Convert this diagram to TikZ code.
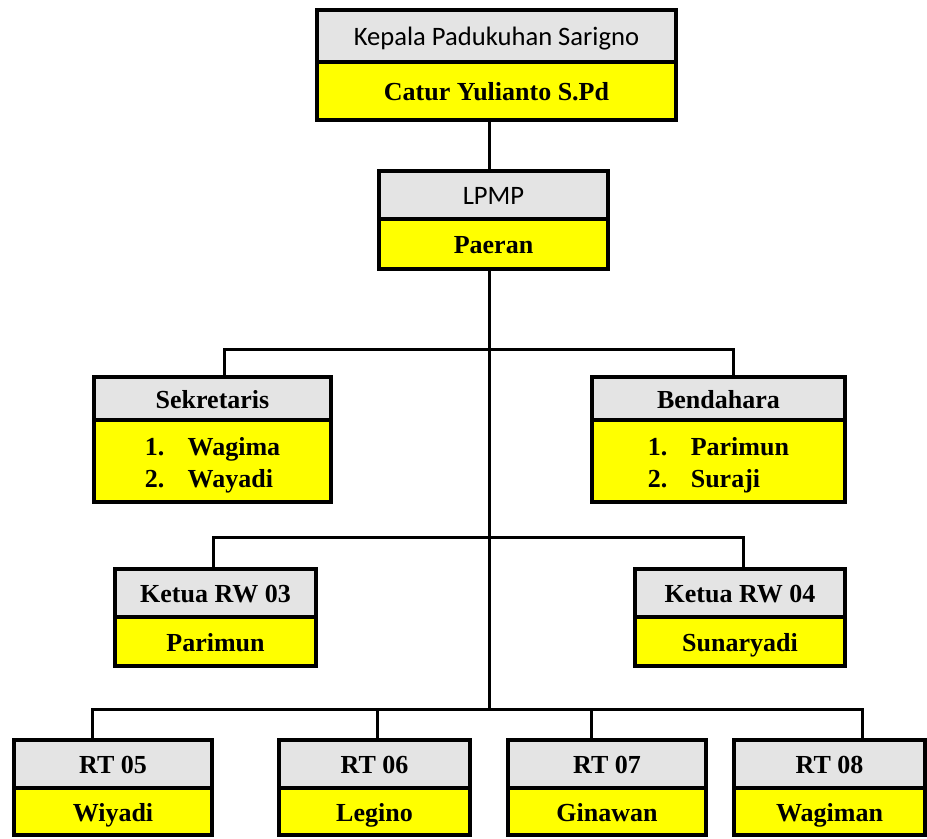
\documentclass[tikz,border=0pt]{standalone}
\usepackage{fontspec}
\setmainfont{Liberation Serif}
\newfontfamily\calib{Carlito}
\usepackage{tikz}
\usetikzlibrary{positioning}
\definecolor{hdgray}{RGB}{228,228,228}
\definecolor{boxyellow}{RGB}{255,255,0}
\newcommand{\numitem}[2]{\makebox[1.65em][l]{#1}#2}

\tikzset{
  boxed/.style={draw,line width=2pt,anchor=north,inner sep=0pt,outer sep=0pt,
    font=\fontsize{13}{16.5}\selectfont\bfseries},
  head/.style={boxed,fill=hdgray,text height=10.8pt,text depth=1.2pt},
  calhead/.style={head,font=\fontsize{13.3}{15}\selectfont\calib},
  body/.style={boxed,fill=boxyellow,text height=10.8pt,text depth=1.2pt},
  listbody/.style={boxed,fill=boxyellow,align=left,text height=27pt,text depth=0pt},
  link/.style={line width=1.5pt}
}

\begin{document}
\begin{tikzpicture}[x=0.5pt,y=-0.5pt]
    \useasboundingbox (0,0) rectangle (927,839);
    % top
    \node[calhead,minimum width=179.5pt,minimum height=26pt] (kepala) at (496.5,10) {Kepala Padukuhan Sarigno};
    \node[body,minimum width=179.5pt,minimum height=29pt] (catur) at (kepala.south) {Catur Yulianto S.Pd};
    \node[calhead,minimum width=114.5pt,minimum height=24pt] (lpmp) at (493.5,171) {LPMP};
    \node[body,minimum width=114.5pt,minimum height=25pt] (paeran) at (lpmp.south) {Paeran};
    % sekretaris, bendahara
    \node[head,minimum width=118.5pt,minimum height=21.5pt] (sek) at (212.5,377) {Sekretaris};
    \node[listbody,minimum width=118.5pt,minimum height=41pt] (sekb) at (sek.south)
      {\numitem{1.}{Wagima}\\\numitem{2.}{Wayadi}};
    \node[head,minimum width=126.5pt,minimum height=21.5pt] (bend) at (718.5,377) {Bendahara};
    \node[listbody,minimum width=126.5pt,minimum height=41pt] (bendb) at (bend.south)
      {\numitem{1.}{Parimun}\\\numitem{2.}{Suraji}};
    % ketua RW
    \node[head,minimum width=100.5pt,minimum height=24pt] (rwa) at (215.5,569) {Ketua RW 03};
    \node[body,minimum width=100.5pt,minimum height=24.5pt] (rwab) at (rwa.south) {Parimun};
    \node[head,minimum width=105pt,minimum height=24pt] (rwb) at (740,569) {Ketua RW 04};
    \node[body,minimum width=105pt,minimum height=24.5pt] (rwbb) at (rwb.south) {Sunaryadi};
    % RT
    \node[head,minimum width=99pt,minimum height=24pt] (rta) at (113,740) {RT 05};
    \node[body,minimum width=99pt,minimum height=23.5pt] (rtab) at (rta.south) {Wiyadi};
    \node[head,minimum width=95.5pt,minimum height=24pt] (rtb) at (374.5,740) {RT 06};
    \node[body,minimum width=95.5pt,minimum height=23.5pt] (rtbb) at (rtb.south) {Legino};
    \node[head,minimum width=99pt,minimum height=24pt] (rtc) at (607,740) {RT 07};
    \node[body,minimum width=99pt,minimum height=23.5pt] (rtcb) at (rtc.south) {Ginawan};
    \node[head,minimum width=95.5pt,minimum height=24pt] (rtd) at (829.5,740) {RT 08};
    \node[body,minimum width=95.5pt,minimum height=23.5pt] (rtdb) at (rtd.south) {Wagiman};
    % connectors
    \coordinate (trunk) at (489,709);
    \coordinate (bsek) at (224,350);
    \coordinate (bbend) at (733,350);
    \coordinate (brwa) at (213,538);
    \coordinate (brwb) at (743,538);
    \coordinate (brta) at (92,709);
    \coordinate (brtb) at (377,709);
    \coordinate (brtc) at (591,709);
    \coordinate (brtd) at (862,709);
    \draw[link] (catur.south -| trunk) -- (lpmp.north -| trunk);
    \draw[link] (paeran.south -| trunk) -- (trunk);
    \draw[link] (sek.north -| bsek) -- (bsek) -- (bbend) -- (bend.north -| bbend);
    \draw[link] (rwa.north -| brwa) -- (brwa) -- (brwb) -- (rwb.north -| brwb);
    \draw[link] (rta.north -| brta) -- (brta) -- (brtd) -- (rtd.north -| brtd);
    \draw[link] (brtb) -- (rtb.north -| brtb);
    \draw[link] (brtc) -- (rtc.north -| brtc);
  \end{tikzpicture}
\end{document}
